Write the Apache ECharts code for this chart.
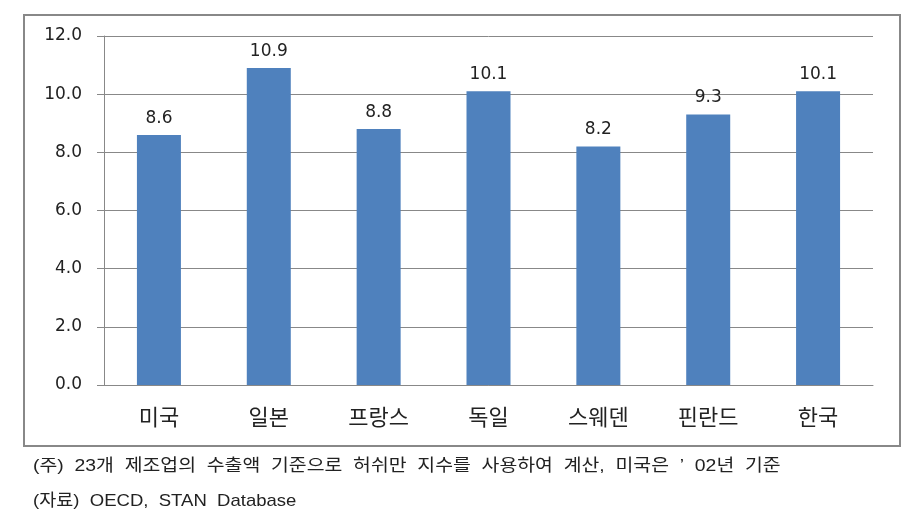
<!DOCTYPE html>
<html>
<head>
<meta charset="utf-8">
<script src="https://cdn.jsdelivr.net/npm/echarts@6/dist/echarts.min.js"></script>
<style>html,body{margin:0;padding:0;background:#fff}#c{width:919px;height:529px}</style>
</head>
<body>
<div id="c"></div>
<script>
var categories = ['미국', '일본', '프랑스', '독일', '스웨덴', '핀란드', '한국'];
var values = [8.6, 10.9, 8.8, 10.1, 8.2, 9.3, 10.1];
var yTicks = [0, 2, 4, 6, 8, 10, 12];
var noteLine1 = '(주) 23개 제조업의 수출액 기준으로 허쉬만 지수를 사용하여 계산, 미국은 ’ 02년 기준';
var noteLine2 = '(자료) OECD, STAN Database';

function wide(s) { return s.split(' ').join('  '); }

var chart = echarts.init(document.getElementById('c'), null, {renderer: 'canvas'});
var numFont = 'Verdana, "DejaVu Sans", sans-serif';
var krFont = '"Noto Sans CJK KR", sans-serif';
var noteFont = '17px "Liberation Sans", "Noto Sans CJK KR", sans-serif';
chart.setOption({
  animation: false,
  grid: {left: 104, top: 36, right: 46, bottom: 144},
  xAxis: {
    type: 'category',
    data: categories,
    axisLine: {lineStyle: {color: '#888', width: 1}},
    axisTick: {length: 8, lineStyle: {color: '#888'}},
    axisLabel: {margin: 21, fontSize: 22, color: '#222', fontFamily: krFont}
  },
  yAxis: {
    type: 'value',
    min: yTicks[0], max: yTicks[yTicks.length - 1], interval: 2,
    axisLine: {show: true, lineStyle: {color: '#888'}},
    axisTick: {show: true, length: 7, lineStyle: {color: '#888'}},
    splitLine: {lineStyle: {color: '#888', width: 1}},
    axisLabel: {margin: 22, fontSize: 17, color: '#222', fontFamily: numFont,
      formatter: function (v) { return v.toFixed(1); }}
  },
  series: [{
    type: 'bar',
    data: values,
    barWidth: 44,
    itemStyle: {color: '#4F81BD'},
    label: {show: true, position: 'top', distance: 8, fontSize: 17, color: '#222', fontFamily: numFont,
      formatter: function (p) { return p.value.toFixed(1); }}
  }],
  graphic: [
    {type: 'rect', shape: {x: 24, y: 15, width: 876, height: 431}, style: {fill: null, stroke: '#888', lineWidth: 2}, silent: true},
    {type: 'text', x: 33, y: 466, scaleX: 1.14, style: {text: wide(noteLine1), fill: '#222', font: noteFont, verticalAlign: 'middle'}},
    {type: 'text', x: 33, y: 501, scaleX: 1.09, style: {text: wide(noteLine2), fill: '#222', font: noteFont, verticalAlign: 'middle'}}
  ]
});
</script>
</body>
</html>
